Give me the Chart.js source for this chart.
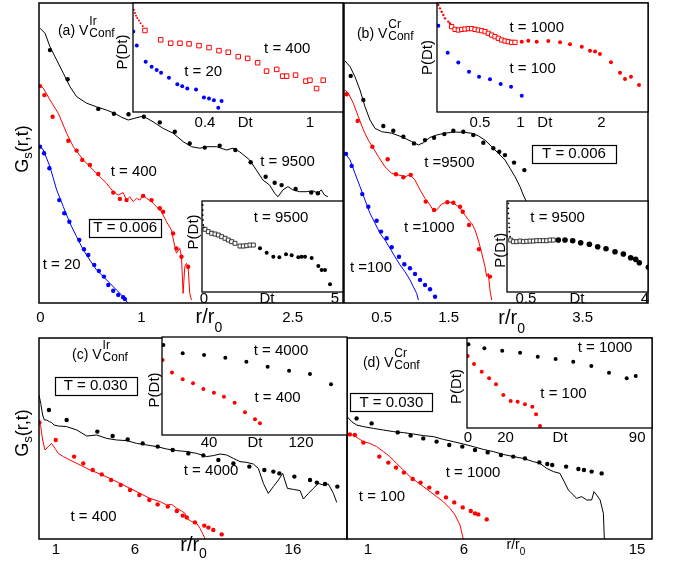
<!DOCTYPE html>
<html><head><meta charset="utf-8">
<script src="https://cdn.jsdelivr.net/npm/chart.js@4.4.1/dist/chart.umd.min.js"></script>
<style>
html,body{margin:0;padding:0;background:#fff;}
#wrap{position:relative;width:675px;height:561px;overflow:hidden;background:#fff;}
#wrap canvas{position:absolute;}
</style></head><body><div id="wrap"></div>
<script>
// ---------- tick labels ----------
const aTicks = [[0,'0'],[1,'1'],[2.5,'2.5']];
const bTicks = [[0.5,'0.5'],[1.5,'1.5'],[3.5,'3.5']];
const cTicks = [[1,'1'],[6,'6'],[16,'16']];
const dTicks = [[1,'1'],[6,'6'],[15,'15']];
const iaTopTicks = [[0.4,'0.4'],[0.63,'Dt'],[1,'1']];
const iaLowTicks = [[0,'0'],[2.4,'Dt'],[5,'5']];
const ibTopTicks = [[0.5,'0.5'],[1,'1'],[1.3,'Dt'],[2,'2']];
const ibLowTicks = [[0.5,'0.5'],[2.0,'Dt'],[4,'4']];
const icTicks = [[40,'40'],[80,'Dt'],[120,'120']];
const idTicks = [[0,'0'],[20,'20'],[49,'Dt'],[90,'90']];

// ---------- panel (a): Gs(r,t) vs r/r0 (y in arbitrary log units) ----------
const aLine9500 = [[-0.005,9.16],[0.045,8.99],[0.094,8.54],[0.16,8.1],[0.226,7.66],[0.292,7.21],[0.358,6.88],[0.457,6.66],[0.556,6.54],[0.655,6.43],[0.738,6.32],[0.804,6.19],[0.87,6.1],[0.936,6.16],[1.018,6.23],[1.117,6.04],[1.216,5.82],[1.315,5.66],[1.414,5.38],[1.497,5.21],[1.579,5.16],[1.662,5.21],[1.745,5.21],[1.844,5.1],[1.909,5.16],[1.975,5.04],[2.074,4.77],[2.141,4.43],[2.206,4.1],[2.272,3.93],[2.322,3.66],[2.355,3.54],[2.404,3.77],[2.454,3.88],[2.503,3.77],[2.569,3.71],[2.636,3.71],[2.701,3.74],[2.751,3.66],[2.784,3.77],[2.817,3.6],[2.85,3.54]];
const aDots9500 = [[0.094,8.43],[0.269,7.46],[0.573,6.47],[0.728,6.31],[0.873,6.29],[1.025,6.21],[1.183,6.02],[1.332,5.71],[1.48,5.32],[1.629,5.18],[1.777,5.24],[1.932,5.1],[2.084,4.69],[2.233,4.21],[2.322,4.01],[2.391,3.93],[2.53,3.8],[2.685,3.68],[2.751,3.66]];
const aLine400 = [[-0.005,7.27],[0.028,7.16],[0.094,6.77],[0.177,6.32],[0.259,5.66],[0.325,5.21],[0.424,4.77],[0.523,4.43],[0.589,4.21],[0.655,3.99],[0.721,3.71],[0.771,3.6],[0.82,3.68],[0.853,3.43],[0.886,3.54],[0.919,3.38],[0.952,3.49],[0.985,3.43],[1.018,3.6],[1.051,3.49],[1.101,3.38],[1.15,3.21],[1.2,3.04],[1.249,2.71],[1.299,2.43],[1.332,1.88],[1.348,1.66],[1.381,1.82],[1.398,1.54],[1.414,0.32],[1.431,1.21],[1.447,1.32],[1.464,1.21],[1.48,0.32],[1.497,0.1]];
const aDots400 = [[-0.005,7.23],[0.038,6.93],[0.12,6.21],[0.276,5.41],[0.358,5.08],[0.414,4.77],[0.49,4.6],[0.573,4.3],[0.721,3.68],[0.787,3.47],[0.853,3.43],[1.018,3.57],[1.101,3.43],[1.183,3.16],[1.216,3.04],[1.315,2.32],[1.348,1.82],[1.398,1.54],[1.464,1.21]];
const aLine20 = [[-0.005,5.23],[0.028,5.1],[0.094,4.54],[0.16,3.77],[0.226,3.21],[0.292,2.66],[0.358,2.21],[0.424,1.77],[0.49,1.43],[0.556,1.1],[0.622,0.88],[0.688,0.66],[0.754,0.43],[0.804,0.27],[0.837,0.1],[0.87,0]];
const aDots20 = [[-0.005,5.21],[0.035,4.99],[0.088,4.49],[0.186,3.43],[0.236,2.99],[0.286,2.71],[0.385,2.1],[0.431,1.79],[0.474,1.6],[0.533,1.27],[0.579,1.07],[0.629,0.88],[0.672,0.6],[0.721,0.41],[0.771,0.27],[0.82,0.19],[0.837,0.13]];

// ---------- panel (b) ----------
const bLine9500 = [[-0.048,8.07],[0.027,7.88],[0.101,7.54],[0.176,7.1],[0.251,6.54],[0.325,6.1],[0.4,5.82],[0.5,5.71],[0.649,5.66],[0.798,5.54],[0.948,5.38],[1.047,5.27],[1.121,5.34],[1.221,5.52],[1.321,5.6],[1.445,5.66],[1.569,5.7],[1.718,5.69],[1.843,5.66],[1.942,5.57],[2.042,5.43],[2.142,5.21],[2.24,4.99],[2.34,4.77],[2.415,4.49],[2.49,4.21],[2.564,3.88],[2.613,3.6],[2.649,3.43],[2.713,2.99]];
const bDots9500 = [[0.037,7.57],[0.226,6.77],[0.524,5.9],[0.673,5.74],[0.823,5.54],[0.982,5.32],[1.146,5.43],[1.281,5.51],[1.435,5.63],[1.569,5.74],[1.718,5.71],[1.867,5.6],[2.017,5.34],[2.166,5.16],[2.255,5.04],[2.34,4.93],[2.475,4.68],[2.629,4.43]];
const bLine1000 = [[-0.048,7.1],[0.002,6.99],[0.076,6.66],[0.151,6.21],[0.226,5.77],[0.3,5.43],[0.375,5.16],[0.449,4.88],[0.549,4.54],[0.649,4.32],[0.748,4.27],[0.848,4.21],[0.922,4.27],[0.997,4.1],[1.072,3.77],[1.146,3.49],[1.221,3.27],[1.27,3.08],[1.321,3.1],[1.395,3.3],[1.494,3.38],[1.594,3.3],[1.669,3.16],[1.743,2.93],[1.793,2.77],[1.843,2.66],[1.893,2.43],[1.942,2.1],[1.993,1.66],[2.042,1.21],[2.067,0.88],[2.091,0.99],[2.116,0.43],[2.142,0.1]];
const bDots1000 = [[-0.023,6.96],[0.141,6.07],[0.36,5.21],[0.589,4.79],[0.713,4.29],[0.823,4.19],[0.933,4.27],[1.157,3.38],[1.281,3.1],[1.479,3.36],[1.569,3.34],[1.669,3.21],[1.709,3.04],[1.803,2.6],[1.952,1.79],[2.116,0.88]];
const bLine100 = [[-0.048,4.99],[0.027,4.77],[0.101,4.32],[0.176,3.88],[0.251,3.43],[0.325,2.99],[0.4,2.66],[0.475,2.32],[0.549,2.1],[0.624,1.82],[0.698,1.54],[0.773,1.27],[0.848,1.04],[0.922,0.77],[0.972,0.54],[1.022,0.32],[1.047,0.1]];
const bDots100 = [[-0.033,4.97],[0.052,4.57],[0.21,3.63],[0.3,3.21],[0.425,2.74],[0.49,2.38],[0.574,2.16],[0.649,1.86],[0.758,1.54],[0.837,1.29],[0.922,1.16],[0.997,0.97],[1.072,0.77],[1.146,0.6],[1.221,0.46],[1.296,0.21]];

// ---------- panel (c) ----------
const cLine4000 = [[-0.07,7.2],[0.04,6.78],[0.16,6.2],[0.27,5.95],[0.42,5.95],[0.58,5.87],[0.73,5.82],[0.88,5.7],[1.15,5.65],[1.68,5.62],[2.32,5.45],[2.95,5.15],[3.58,5.2],[4.21,5.03],[4.85,4.95],[5.48,4.92],[6.11,4.78],[6.75,4.7],[7.38,4.62],[8.01,4.5],[8.65,4.42],[9.28,4.37],[9.91,4.28],[10.54,4.12],[10.96,4.17],[11.39,4.25],[11.81,4.2],[12.23,4.03],[12.65,3.87],[13.08,3.83],[13.49,3.75],[13.81,3.53],[14.13,2.78],[14.44,2.28],[14.76,2.62],[15.08,2.95],[15.35,3.28],[15.65,2.53],[16.03,2.48],[16.45,2.42],[16.66,2.0],[16.98,2.28],[17.29,2.53],[17.61,2.78],[17.92,2.7],[18.24,2.75],[18.56,2.28],[18.77,1.83]];
const cDots4000 = [[0.56,6.45],[1.68,5.95],[3.62,5.37],[4.59,5.15],[5.54,4.98],[6.49,4.78],[7.44,4.62],[8.39,4.45],[9.38,4.28],[10.33,4.18],[11.28,3.95],[12.23,3.78],[13.24,3.62],[14.19,3.45],[14.76,3.37],[15.14,3.28],[16.09,3.12],[17.08,2.95],[17.51,2.82],[18.03,2.75],[18.81,2.62]];
const cLine400 = [[-0.07,5.87],[0.04,5.62],[0.16,4.95],[0.31,4.45],[0.52,4.62],[0.73,4.78],[0.94,4.53],[1.15,4.28],[1.47,4.12],[1.89,3.95],[2.53,3.7],[3.16,3.45],[3.79,3.25],[4.42,3.03],[5.06,2.78],[5.69,2.53],[6.32,2.28],[6.96,2.03],[7.59,1.87],[8.01,1.7],[8.33,1.73],[8.65,1.53],[8.96,1.4],[9.17,1.28],[9.28,1.03],[9.59,0.87],[9.91,0.78],[10.12,0.53],[10.33,0.2],[10.44,0]];
const cDots400 = [[-0.05,5.83],[0.99,4.95],[2.15,4.12],[2.73,3.78],[3.33,3.45],[3.9,3.23],[4.49,2.95],[5.1,2.7],[5.69,2.45],[6.28,2.2],[6.91,1.95],[7.44,1.73],[8.08,1.62],[8.65,1.4],[9.03,1.17],[9.28,1.08],[9.8,0.83],[10.39,0.67],[10.65,0.57],[10.96,0.45],[11.49,0.23]];

// ---------- panel (d) ----------
const dLine1000 = [[-0.08,6.12],[0.15,5.87],[0.41,5.7],[0.76,5.62],[1.28,5.53],[1.8,5.45],[2.32,5.37],[2.84,5.32],[3.36,5.25],[3.88,5.17],[4.4,5.12],[4.92,4.98],[5.44,4.87],[5.96,4.75],[6.48,4.62],[7.0,4.48],[7.52,4.37],[8.04,4.23],[8.56,4.12],[9.08,4.03],[9.6,3.87],[9.95,3.78],[10.3,3.53],[10.65,3.37],[10.99,3.28],[11.17,2.95],[11.43,2.45],[11.69,2.2],[11.86,2.03],[12.12,2.12],[12.38,1.95],[12.64,1.95],[12.76,2.37],[12.9,2.2],[13.08,1.95],[13.25,1.28],[13.3,0]];
const dDots1000 = [[0.41,6.03],[1.19,5.78],[2.55,5.33],[3.22,5.17],[3.88,5.03],[4.57,4.87],[5.23,4.7],[5.91,4.62],[6.57,4.45],[7.23,4.33],[7.92,4.2],[8.56,4.12],[9.17,4.03],[9.92,3.83],[10.33,3.75],[10.59,3.7],[11.31,3.62],[11.95,3.5],[12.24,3.45],[12.64,3.37],[13.16,3.28]];
const dLine100 = [[-0.08,5.28],[0.23,5.2],[0.5,5.03],[0.76,4.87],[1.1,4.78],[1.45,4.62],[1.8,4.37],[2.14,4.12],[2.49,3.78],[2.84,3.45],[3.19,3.12],[3.53,2.87],[3.88,2.62],[4.23,2.37],[4.57,2.12],[4.92,1.87],[5.27,1.53],[5.53,1.2],[5.79,0.7],[5.96,0]];
const dDots100 = [[0.06,5.23],[0.32,5.2],[0.76,4.82],[1.59,4.12],[2.06,3.82],[2.46,3.57],[2.87,3.32],[3.33,3.0],[3.74,2.82],[4.19,2.57],[4.61,2.32],[5.06,2.08],[5.49,1.83],[5.93,1.58],[6.35,1.4],[6.57,1.28],[6.74,1.23],[7.18,0.98]];

// ---------- insets: P(Dt) vs Dt (y in arbitrary units) ----------
const iaTopRedFine = [[-0.006,0.938],[0.0,0.908],[0.006,0.883],[0.013,0.862],[0.023,0.84],[0.032,0.815],[0.044,0.79]];
const iaTopRedSq = [[0.057,0.748],[0.147,0.662],[0.204,0.631],[0.257,0.631],[0.309,0.625],[0.366,0.609],[0.423,0.591],[0.48,0.563],[0.533,0.548],[0.59,0.508],[0.644,0.492],[0.701,0.452],[0.752,0.375],[0.81,0.391],[0.844,0.329],[0.867,0.329],[0.918,0.338],[0.977,0.283],[1.0,0.292],[1.038,0.215],[1.076,0.292]];
const iaTopBlue = [[-0.01,0.738],[0.01,0.609],[0.061,0.462],[0.095,0.415],[0.124,0.385],[0.149,0.36],[0.194,0.314],[0.242,0.255],[0.27,0.237],[0.299,0.215],[0.349,0.206],[0.394,0.132],[0.423,0.123],[0.451,0.108],[0.495,0.102],[0.476,0.04]];
const iaLowFine = [[-0.05,0.956],[-0.05,0.901],[-0.05,0.846],[-0.04,0.791],[-0.03,0.736],[0,0.711]];
const iaLowSq = [[0.038,0.689],[0.165,0.663],[0.293,0.645],[0.42,0.637],[0.547,0.626],[0.674,0.608],[0.802,0.59],[0.929,0.571],[1.056,0.553],[1.183,0.535],[1.374,0.505],[1.501,0.505],[1.628,0.509],[1.756,0.516],[1.883,0.516]];
const iaLowDots = [[2.137,0.48],[2.392,0.432],[2.646,0.388],[2.875,0.381],[3.13,0.414],[3.346,0.403],[3.6,0.381],[3.727,0.388],[3.855,0.388],[4.109,0.374],[4.364,0.286],[4.491,0.242],[4.618,0.242],[4.809,0.084]];
const ibTopRedFine = [[-0.015,0.982],[0.006,0.951],[0.027,0.92],[0.047,0.89],[0.068,0.859],[0.109,0.829],[0.13,0.813]];
const ibTopRedSq = [[0.15,0.783],[0.191,0.758],[0.232,0.752],[0.274,0.758],[0.315,0.761],[0.356,0.765],[0.397,0.765],[0.438,0.758],[0.479,0.752],[0.521,0.746],[0.562,0.737],[0.602,0.722],[0.644,0.706],[0.685,0.691],[0.726,0.676],[0.768,0.661],[0.809,0.651],[0.849,0.645],[0.891,0.639],[0.932,0.639]];
const ibTopRedDots = [[1.015,0.645],[1.096,0.654],[1.2,0.645],[1.343,0.651],[1.488,0.639],[1.611,0.621],[1.756,0.599],[1.858,0.563],[1.92,0.554],[1.981,0.532],[2.117,0.456],[2.228,0.361],[2.29,0.303],[2.364,0.324],[2.463,0.248]];
const ibTopBlue = [[-0.015,0.792],[0.101,0.544],[0.232,0.453],[0.364,0.37],[0.488,0.324],[0.623,0.3],[0.755,0.257],[0.883,0.232],[1.015,0.15]];
const ibLowFine = [[-0.02,0.974],[-0.02,0.919],[-0.02,0.864],[0.0,0.81],[0.0,0.755],[0.01,0.711],[0.01,0.663],[0.03,0.608]];
const ibLowSq = [[0.049,0.571],[0.127,0.553],[0.225,0.553],[0.324,0.56],[0.422,0.553],[0.52,0.557],[0.618,0.56],[0.716,0.56],[0.814,0.564],[0.912,0.564],[1.01,0.564],[1.108,0.564],[1.206,0.571],[1.304,0.571]];
const ibLowDots = [[1.451,0.571],[1.647,0.571],[1.873,0.564],[2.108,0.542],[2.363,0.524],[2.608,0.498],[2.853,0.476],[3.118,0.443],[3.363,0.418],[3.578,0.377],[3.725,0.359],[3.833,0.322],[4.098,0.271]];
const icBlack = [[0.3,0.918],[17.1,0.833],[35.7,0.816],[54.2,0.789],[72.5,0.748],[91,0.697],[109.6,0.656],[127.8,0.622],[146.1,0.517]];
const icRed = [[-0.3,0.765],[7.8,0.639],[17.1,0.568],[26.1,0.527],[35.1,0.469],[44.3,0.432],[53,0.391],[62.3,0.33],[71.3,0.231],[80,0.16],[84.3,0.119]];
const idBlack = [[0.2,0.93],[8.7,0.885],[18.2,0.859],[27.7,0.837],[37.1,0.793],[46.6,0.767],[56,0.737],[65.6,0.689],[75,0.615],[84.4,0.552],[89.2,0.578]];
const idRed = [[-0.2,0.8],[3.2,0.711],[7.3,0.626],[11.2,0.552],[14.9,0.485],[18.8,0.367],[22.7,0.3],[26.4,0.293],[30.3,0.263],[34.2,0.237],[36.2,0.152],[38.3,0.022]];

// ---------- helpers ----------
const F = '"Liberation Sans", Arial, Helvetica, sans-serif';
const RED = '#ff0000', BLUE = '#0000ff', BLACK = '#000000';
function pts(a){ return a.map(p => ({x:p[0], y:p[1]})); }
function line(a,c){ return {data:pts(a), showLine:true, borderColor:c, borderWidth:1, pointRadius:0, pointHoverRadius:0, tension:0, order:2}; }
function dots(a,c,r){ return {data:pts(a), showLine:false, pointStyle:'circle', pointRadius:r, pointHoverRadius:r, backgroundColor:c, borderColor:c, pointBorderWidth:0, borderWidth:0, order:1}; }
function squares(a,c,r){ return {data:pts(a), showLine:false, pointStyle:'rect', pointRadius:r, pointHoverRadius:r, backgroundColor:'#ffffff', borderColor:c, pointBorderWidth:1, borderWidth:1, order:1}; }

function drawV(ctx, x, y, pre, sup){
  ctx.textAlign='left'; ctx.textBaseline='alphabetic';
  ctx.font = '14px ' + F; const w = ctx.measureText(pre).width; const base = y + 5;
  ctx.fillText(pre, x, base);
  ctx.font = '12px ' + F;
  ctx.fillText(sup, x + w + 1, base - 10);
  ctx.fillText('Conf', x + w + 1, base + 2);
}
function drawRR(ctx, cx, base, size, sub, subDy){
  ctx.textAlign='left'; ctx.textBaseline='alphabetic';
  ctx.font = size + 'px ' + F; const w1 = ctx.measureText('r/r').width;
  ctx.font = sub + 'px ' + F; const w2 = ctx.measureText('0').width;
  const x0 = cx - (w1 + w2) / 2;
  ctx.font = size + 'px ' + F; ctx.fillText('r/r', x0, base);
  ctx.font = sub + 'px ' + F; ctx.fillText('0', x0 + w1, base + subDy);
}
function drawGs(ctx, bx, cy){
  ctx.save(); ctx.translate(bx, cy); ctx.rotate(-Math.PI/2);
  ctx.textAlign='left'; ctx.textBaseline='alphabetic';
  ctx.font = '18px ' + F; const wG = ctx.measureText('G').width, wR = ctx.measureText('(r,t)').width;
  ctx.font = '13px ' + F; const wS = ctx.measureText('s').width;
  let x = -(wG + wS + wR) / 2;
  ctx.font = '18px ' + F; ctx.fillText('G', x, 0); x += wG;
  ctx.font = '13px ' + F; ctx.fillText('s', x, 4); x += wS;
  ctx.font = '18px ' + F; ctx.fillText('(r,t)', x, 0);
  ctx.restore();
}
function drawPD(ctx, bx, cy){
  ctx.save(); ctx.translate(bx, cy); ctx.rotate(-Math.PI/2);
  ctx.textAlign='center'; ctx.textBaseline='alphabetic';
  ctx.font = '15px ' + F; ctx.fillText('P(Dt)', 0, 0);
  ctx.restore();
}
function decorate(ch, c){
  const ctx = ch.ctx, a = ch.chartArea;
  const X = v => ch.scales.x.getPixelForValue(v), Y = v => ch.scales.y.getPixelForValue(v);
  ctx.save();
  ctx.fillStyle = '#000'; ctx.strokeStyle = '#000';
  (c.texts || []).forEach(t => {
    const x = X(t.x), y = Y(t.y);
    if (t.v) { drawV(ctx, x, y, t.v[0], t.v[1]); return; }
    ctx.font = (t.size || 15) + 'px ' + F; ctx.textAlign = 'center'; ctx.textBaseline = 'middle';
    ctx.fillText(t.s, x, y);
    if (t.box != null) {
      const w = ctx.measureText(t.s).width;
      ctx.lineWidth = 1.2;
      ctx.strokeRect(Math.round(x - w/2 - t.box) + 0.5, Math.round(y - 9) + 0.5, Math.round(w + 2*t.box), 18);
    }
  });
  if (c.rr) drawRR(ctx, X(c.rr.x), a.bottom + c.rr.dy, c.rr.size, c.rr.sub, c.rr.subDy);
  if (c.gs) drawGs(ctx, a.left + c.gs.dx, Y(c.gs.y));
  if (c.pd) drawPD(ctx, a.left + c.pd.dx, Y(c.pd.y));
  ctx.lineWidth = c.frameW || 1.5;
  ctx.strokeRect(a.left, a.top, a.right - a.left, a.bottom - a.top);
  ctx.restore();
}
function makeChart(c){
  const pl = c.pl, pr = c.pr, pt = c.pt;
  const W = c.w + pl + pr, H = c.h + pt + c.axisH;
  const cv = document.createElement('canvas');
  cv.width = W; cv.height = H;
  cv.style.left = (c.x - pl) + 'px'; cv.style.top = (c.y - pt) + 'px';
  cv.style.width = W + 'px'; cv.style.height = H + 'px';
  document.getElementById('wrap').appendChild(cv);
  return new Chart(cv.getContext('2d'), {
    type: 'scatter',
    data: { datasets: c.datasets },
    options: {
      responsive: false, maintainAspectRatio: false, animation: false, devicePixelRatio: 1, events: [],
      layout: { padding: { left: pl, right: pr, top: pt, bottom: 0 }, autoPadding: false },
      plugins: { legend: { display: false }, tooltip: { enabled: false } },
      scales: {
        x: {
          type: 'linear', position: 'bottom', min: c.xmin, max: c.xmax,
          grid: { display: false, drawTicks: false, drawOnChartArea: false },
          border: { display: false },
          afterBuildTicks: s => { s.ticks = c.ticks.map(t => ({ value: t[0] })); },
          afterFit: s => { s.height = c.axisH; },
          ticks: {
            autoSkip: false, maxRotation: 0, minRotation: 0, padding: c.tickPad, color: '#000',
            font: { family: F, size: c.tickSize || 15 },
            callback: function(v){ const t = c.ticks.find(q => Math.abs(q[0] - v) < 1e-9); return t ? t[1] : ''; }
          }
        },
        y: { type: 'linear', display: false, min: c.ymin, max: c.ymax }
      }
    },
    plugins: [{
      id: 'deco',
      beforeDraw(ch){ if (c.white) { const a = ch.chartArea; ch.ctx.save(); ch.ctx.fillStyle = '#fff'; ch.ctx.fillRect(a.left, a.top, a.right - a.left, a.bottom - a.top); ch.ctx.restore(); } },
      afterDraw(ch){ decorate(ch, c); }
    }]
  });
}

// ---------- main panels ----------
makeChart({x:39, y:3, w:304, h:300, pl:45, pr:20, pt:10, axisH:35, xmin:-0.015, xmax:3.0, ymin:0, ymax:10,
  ticks:aTicks, tickPad:6, frameW:1.5,
  datasets:[line(aLine9500,BLACK), dots(aDots9500,BLACK,2.2), line(aLine400,RED), dots(aDots400,RED,2.2), line(aLine20,BLUE), dots(aDots20,BLUE,2.2)],
  texts:[{v:['(a) V','Ir'], x:0.173, y:9.1}, {s:'t = 400', x:0.925, y:4.37}, {s:'t = 9500', x:2.45, y:4.7}, {s:'T = 0.006', x:0.84, y:2.5, box:4}, {s:'t = 20', x:0.21, y:1.27}],
  rr:{x:1.67, dy:20, size:20, sub:14, subDy:9}, gs:{dx:-11, y:5.13}});

makeChart({x:344, y:3, w:304, h:300, pl:45, pr:20, pt:10, axisH:35, xmin:-0.063, xmax:4.475, ymin:0, ymax:10,
  ticks:bTicks, tickPad:6, frameW:1.5,
  datasets:[line(bLine9500,BLACK), dots(bDots9500,BLACK,2.2), line(bLine1000,RED), dots(bDots1000,RED,2.2), line(bLine100,BLUE), dots(bDots100,BLUE,2.2)],
  texts:[{v:['(b) V','Cr'], x:0.13, y:9.0}, {s:'T = 0.006', x:3.37, y:4.97, box:10}, {s:'t =9500', x:1.51, y:4.67}, {s:'t =1000', x:1.21, y:2.5}, {s:'t =100', x:0.34, y:1.17}],
  rr:{x:2.44, dy:21, size:20, sub:14, subDy:9}});

makeChart({x:39, y:338, w:308, h:201, pl:45, pr:20, pt:10, axisH:22, xmin:-0.07, xmax:19.42, ymin:0, ymax:10.05,
  ticks:cTicks, tickPad:2, frameW:1.5,
  datasets:[line(cLine4000,BLACK), dots(cDots4000,BLACK,2.2), line(cLine400,RED), dots(cDots400,RED,2.2)],
  texts:[{v:['(c) V','Ir'], x:2.02, y:9.25}, {s:'T = 0.030', x:3.51, y:7.65, box:9}, {s:'t = 4000', x:10.82, y:3.4}, {s:'t = 400', x:3.38, y:1.1}],
  rr:{x:9.71, dy:12, size:20, sub:14, subDy:7}, gs:{dx:-11, y:5.3}});

makeChart({x:347, y:338, w:305, h:201, pl:45, pr:20, pt:10, axisH:22, xmin:-0.09, xmax:15.78, ymin:0, ymax:10.05,
  ticks:dTicks, tickPad:2, frameW:1.5,
  datasets:[line(dLine1000,BLACK), dots(dDots1000,BLACK,2.2), line(dLine100,RED), dots(dDots100,RED,2.2)],
  texts:[{v:['(d) V','Cr'], x:0.74, y:8.83}, {s:'T = 0.030', x:2.22, y:6.83, box:9}, {s:'t = 1000', x:6.47, y:3.3}, {s:'t = 100', x:1.73, y:2.1}],
  rr:{x:8.7, dy:10, size:14, sub:10, subDy:6}});

// ---------- insets ----------
makeChart({x:133, y:3, w:210, h:109, pl:30, pr:20, pt:10, axisH:22, xmin:-0.0114, xmax:1.189, ymin:0, ymax:1,
  ticks:iaTopTicks, tickPad:2, frameW:1.3, white:true,
  datasets:[dots(iaTopRedFine,RED,1), squares(iaTopRedSq,RED,3.2), dots(iaTopBlue,BLUE,2)],
  texts:[{s:'t = 400', x:0.87, y:0.58}, {s:'t = 20', x:0.39, y:0.37}], pd:{dx:-6, y:0.55}});

makeChart({x:202, y:201, w:141, h:91, pl:30, pr:20, pt:10, axisH:22, xmin:-0.076, xmax:5.305, ymin:0, ymax:1,
  ticks:iaLowTicks, tickPad:-2, frameW:1.3, white:true,
  datasets:[dots(iaLowFine,BLACK,0.9), squares(iaLowSq,'#333333',2.8), dots(iaLowDots,BLACK,2)],
  texts:[{s:'t = 9500', x:2.94, y:0.81}], pd:{dx:-4, y:0.66}});

makeChart({x:437, y:3, w:211, h:109, pl:30, pr:20, pt:10, axisH:22, xmin:-0.031, xmax:2.574, ymin:0, ymax:1,
  ticks:ibTopTicks, tickPad:2, frameW:1.3, white:true,
  datasets:[dots(ibTopRedFine,RED,1.2), squares(ibTopRedSq,RED,3), dots(ibTopRedDots,RED,2), dots(ibTopBlue,BLUE,2)],
  texts:[{s:'t = 1000', x:1.2, y:0.77}, {s:'t = 100', x:1.15, y:0.40}], pd:{dx:-5, y:0.5}});

makeChart({x:507, y:201, w:141, h:91, pl:30, pr:20, pt:10, axisH:22, xmin:-0.059, xmax:4.088, ymin:0, ymax:1,
  ticks:ibLowTicks, tickPad:-2, frameW:1.3, white:true,
  datasets:[dots(ibLowFine,BLACK,0.9), squares(ibLowSq,'#333333',2.8), dots(ibLowDots,BLACK,2.8)],
  texts:[{s:'t = 9500', x:1.43, y:0.82}], pd:{dx:-2, y:0.46}});

makeChart({x:162, y:337, w:185, h:98, pl:30, pr:20, pt:10, axisH:22, xmin:-0.87, xmax:160, ymin:0, ymax:1,
  ticks:icTicks, tickPad:-1, frameW:1.3, white:true,
  datasets:[dots(icBlack,BLACK,2), dots(icRed,RED,2)],
  texts:[{s:'t = 4000', x:102.6, y:0.86}, {s:'t = 400', x:99.6, y:0.38}], pd:{dx:-3, y:0.46}});

makeChart({x:467, y:338, w:185, h:90, pl:30, pr:20, pt:10, axisH:22, xmin:-0.53, xmax:97.87, ymin:0, ymax:1,
  ticks:idTicks, tickPad:1, frameW:1.3, white:true,
  datasets:[dots(idBlack,BLACK,2), dots(idRed,RED,2)],
  texts:[{s:'t = 1000', x:72.9, y:0.89}, {s:'t = 100', x:50.8, y:0.38}], pd:{dx:-6, y:0.46}});
</script></body></html>
